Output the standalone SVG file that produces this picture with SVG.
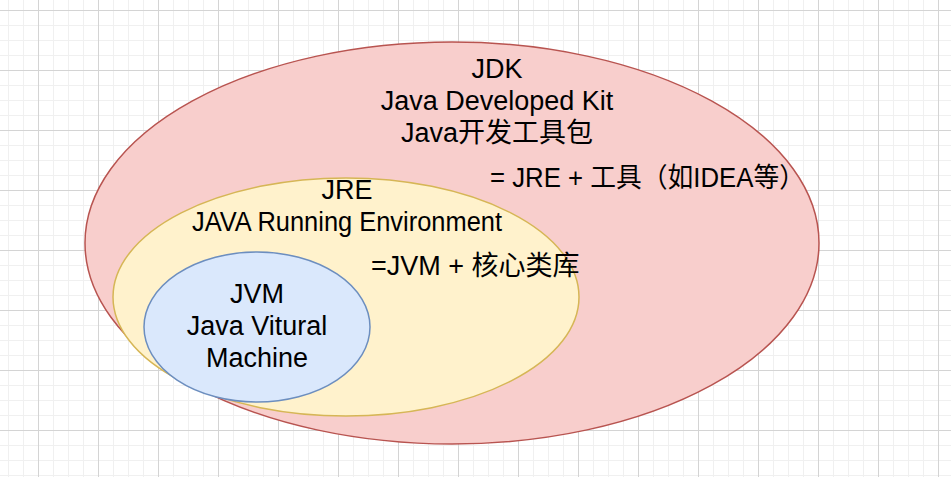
<svg xmlns="http://www.w3.org/2000/svg" width="951" height="477" viewBox="0 0 951 477">
  <defs>
    <pattern id="minor" patternUnits="userSpaceOnUse" x="8" y="10" width="15" height="15">
      <rect x="0" y="0" width="1" height="15" fill="#f0f0f0"/>
      <rect x="0" y="0" width="15" height="1" fill="#f0f0f0"/>
    </pattern>
    <pattern id="major" patternUnits="userSpaceOnUse" x="38" y="10" width="60" height="60">
      <rect x="0" y="0" width="1" height="60" fill="#d4d4d4"/>
      <rect x="0" y="0" width="60" height="1" fill="#d4d4d4"/>
    </pattern>
    <style>
      .t { font-family: "Liberation Sans", Arial, "Noto Sans CJK SC", sans-serif; font-size: 27px; fill: #000; }
      .c { text-anchor: middle; }
      .jdk { fill: #f8cecc; stroke: #b85450; stroke-width: 1.5; }
      .jre { fill: #fff2cc; stroke: #d6b656; stroke-width: 1.5; }
      .jvm { fill: #dae8fc; stroke: #6c8ebf; stroke-width: 1.5; }
    </style>
  </defs>
  <rect width="951" height="477" fill="#ffffff"/>
  <rect width="951" height="477" fill="url(#minor)"/>
  <rect width="951" height="477" fill="url(#major)"/>

  <g id="jdk">
    <ellipse class="jdk" cx="452" cy="243" rx="367" ry="201"/>
    <text class="t c" x="497" y="78">JDK</text>
    <text class="t c" x="497" y="110">Java Developed Kit</text>
    <text class="t c" x="497" y="142">Java开发工具包</text>
    <text class="t" x="490" y="187" textLength="315" lengthAdjust="spacingAndGlyphs">= JRE + 工具（如IDEA等）</text>
  </g>

  <g id="jre">
    <ellipse class="jre" cx="346" cy="297" rx="233" ry="119"/>
    <text class="t c" x="347" y="199">JRE</text>
    <text class="t c" x="347" y="231" textLength="310" lengthAdjust="spacingAndGlyphs">JAVA Running Environment</text>
    <text class="t" x="371" y="275">=JVM + 核心类库</text>
  </g>

  <g id="jvm">
    <ellipse class="jvm" cx="257" cy="327" rx="113" ry="75"/>
    <text class="t c" x="257" y="303">JVM</text>
    <text class="t c" x="257" y="335">Java Vitural</text>
    <text class="t c" x="257" y="367">Machine</text>
  </g>
</svg>
